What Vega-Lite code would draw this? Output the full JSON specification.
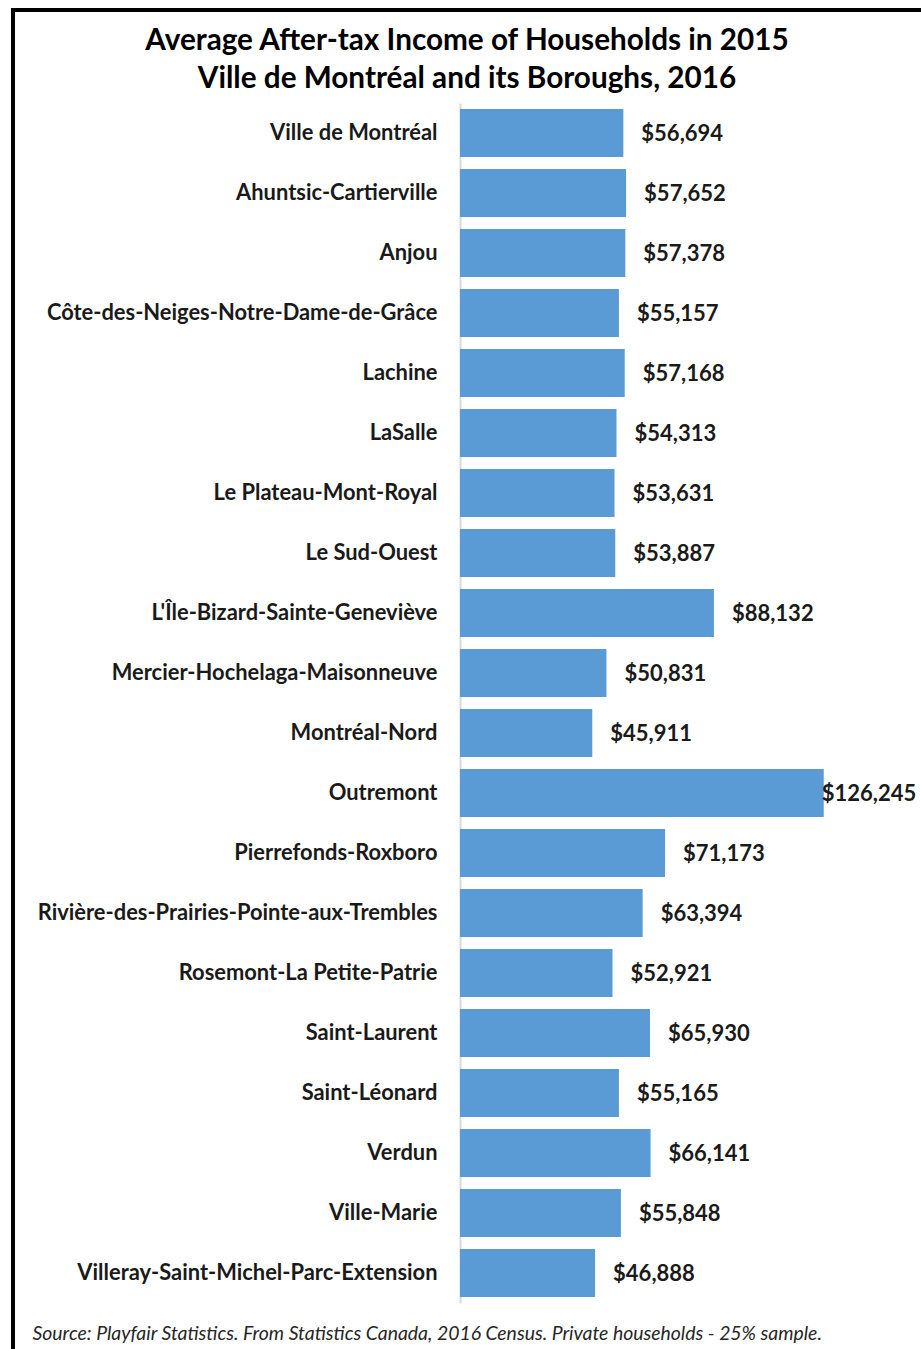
{
  "$schema": "https://vega.github.io/schema/vega-lite/v6.json",
  "width": 908,
  "height": 1339,
  "autosize": {"type": "none"},
  "padding": {"left": 13, "top": 10, "right": 0, "bottom": 0},
  "background": "#ffffff",
  "config": {
    "view": {"stroke": "#000000", "strokeWidth": 4, "strokeDash": [908, 2247, 1339, 0], "strokeCap": "square", "fill": "#ffffff"}
  },
  "title": {
    "text": ["Average After-tax Income of Households in 2015", "Ville de Montréal and its Boroughs, 2016"],
    "font": "Lato",
    "fontSize": 29.7,
    "fontWeight": "bold",
    "color": "#000000",
    "anchor": "middle",
    "lineHeight": 38,
    "dy": 89
  },
  "data": {
    "values": [
      {"name": "Ville de Montréal", "value": 56694},
      {"name": "Ahuntsic-Cartierville", "value": 57652},
      {"name": "Anjou", "value": 57378},
      {"name": "Côte-des-Neiges-Notre-Dame-de-Grâce", "value": 55157},
      {"name": "Lachine", "value": 57168},
      {"name": "LaSalle", "value": 54313},
      {"name": "Le Plateau-Mont-Royal", "value": 53631},
      {"name": "Le Sud-Ouest", "value": 53887},
      {"name": "L'Île-Bizard-Sainte-Geneviève", "value": 88132},
      {"name": "Mercier-Hochelaga-Maisonneuve", "value": 50831},
      {"name": "Montréal-Nord", "value": 45911},
      {"name": "Outremont", "value": 126245},
      {"name": "Pierrefonds-Roxboro", "value": 71173},
      {"name": "Rivière-des-Prairies-Pointe-aux-Trembles", "value": 63394},
      {"name": "Rosemont-La Petite-Patrie", "value": 52921},
      {"name": "Saint-Laurent", "value": 65930},
      {"name": "Saint-Léonard", "value": 55165},
      {"name": "Verdun", "value": 66141},
      {"name": "Ville-Marie", "value": 55848},
      {"name": "Villeray-Saint-Michel-Parc-Extension", "value": 46888}
    ]
  },
  "encoding": {
    "y": {
      "field": "name",
      "type": "nominal",
      "sort": null,
      "scale": {"range": [93, 1293], "paddingInner": 0.2, "paddingOuter": 0.1},
      "axis": {
        "title": null,
        "orient": "left",
        "offset": -447,
        "ticks": false,
        "grid": false,
        "labelPadding": 23,
        "labelFont": "Lato",
        "labelFontSize": 21.9,
        "labelFontWeight": "bold",
        "labelColor": "#1a1a1a",
        "labelLimit": 0,
        "domainColor": "#d9d9d9",
        "domainWidth": 2
      }
    },
    "x": {
      "field": "value",
      "type": "quantitative",
      "scale": {"domain": [0, 160000], "range": [447, 908], "nice": false, "zero": true},
      "axis": {
        "labels": false,
        "ticks": false,
        "domain": false,
        "grid": false,
        "title": "Source: Playfair Statistics. From Statistics Canada, 2016 Census. Private households - 25% sample.",
        "titleX": 19,
        "titleY": -16,
        "titleAlign": "left",
        "titleAnchor": "start",
        "titleBaseline": "middle",
        "titleFont": "Lato",
        "titleFontStyle": "italic",
        "titleFontWeight": "normal",
        "titleFontSize": 19.4,
        "titleColor": "#262626"
      }
    }
  },
  "layer": [
    {"mark": {"type": "bar", "color": "#5b9bd5"}},
    {
      "transform": [{"filter": "datum.value < 100000"}],
      "mark": {"type": "text", "align": "left", "baseline": "middle", "dx": 18, "dy": 1, "font": "Lato", "fontSize": 22, "fontWeight": "bold", "color": "#1a1a1a"},
      "encoding": {"text": {"field": "value", "type": "quantitative", "format": "$,.0f"}}
    },
    {
      "transform": [{"filter": "datum.value >= 100000"}],
      "mark": {"type": "text", "align": "left", "baseline": "middle", "dx": -2, "dy": 1, "font": "Lato", "fontSize": 22, "fontWeight": "bold", "color": "#1a1a1a"},
      "encoding": {"text": {"field": "value", "type": "quantitative", "format": "$,.0f"}}
    }
  ]
}
